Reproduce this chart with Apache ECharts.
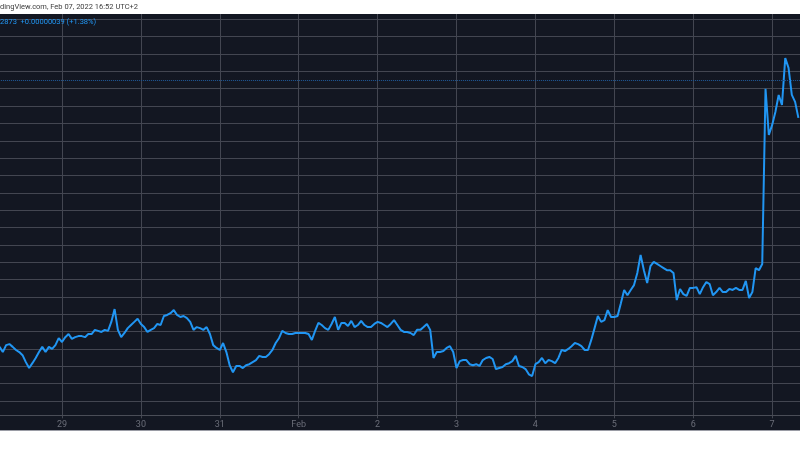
<!DOCTYPE html>
<html>
<head>
<meta charset="utf-8">
<script src="https://cdn.jsdelivr.net/npm/echarts@6/dist/echarts.min.js"></script>
<style>
  html, body { margin: 0; padding: 0; background: #fff; }
  #chart { width: 800px; height: 450px; }
</style>
</head>
<body>
<div id="chart"></div>
<script>
// hours counted from Jan 29 00:00, one point per hour
var startHour = -19
var dayLabels = ['28', '29', '30', '31', 'Feb', '2', '3', '4', '5', '6', '7', '8']
var prices = [
  2206, 2191, 2211, 2214, 2206, 2197, 2191, 2182, 2162, 2145,
  2159, 2174, 2191, 2206, 2191, 2206, 2200, 2211, 2231, 2220,
  2234, 2243, 2229, 2234, 2237, 2237, 2234, 2243, 2243, 2255,
  2252, 2249, 2255, 2252, 2278, 2315, 2255, 2234, 2246, 2260,
  2269, 2278, 2287, 2272, 2263, 2249, 2255, 2260, 2272, 2269,
  2295, 2298, 2303, 2312, 2298, 2292, 2295, 2289, 2278, 2255,
  2263, 2260, 2255, 2263, 2243, 2211, 2203, 2197, 2217, 2191,
  2153, 2133, 2151, 2151, 2145, 2153, 2156, 2162, 2168, 2180,
  2177, 2177, 2185, 2197, 2217, 2231, 2252, 2246, 2243, 2243,
  2246, 2246, 2246, 2246, 2243, 2226, 2252, 2275, 2269, 2260,
  2255, 2272, 2292, 2255, 2275, 2275, 2266, 2281, 2263, 2269,
  2281, 2269, 2263, 2263, 2272, 2278, 2275, 2269, 2263, 2272,
  2283, 2269, 2255, 2249, 2249, 2246, 2240, 2255, 2255, 2263,
  2272, 2255, 2174, 2191, 2191, 2194, 2203, 2208, 2191, 2145,
  2165, 2168, 2168, 2156, 2153, 2156, 2151, 2168, 2174, 2177,
  2171, 2142, 2145, 2148, 2156, 2159, 2165, 2180, 2151, 2148,
  2142, 2127, 2122, 2156, 2162, 2174, 2159, 2168, 2165, 2159,
  2174, 2197, 2194, 2200, 2208, 2217, 2214, 2208, 2197, 2197,
  2226, 2260, 2295, 2278, 2283, 2312, 2292, 2292, 2295, 2332,
  2370, 2355, 2370, 2384, 2419, 2471, 2427, 2390, 2439, 2451,
  2445, 2439, 2433, 2427, 2427, 2419, 2341, 2373, 2358, 2353,
  2376, 2376, 2378, 2358, 2378, 2393, 2387, 2355, 2364, 2376,
  2364, 2364, 2373, 2370, 2376, 2370, 2370, 2396, 2347, 2364,
  2433, 2427, 2445, 2950, 2817, 2845, 2883, 2932, 2903, 3038,
  3010, 2932, 2912, 2866
]
var refLevel = 2975
var headerText = 'dingView.com, Feb 07, 2022 16:52 UTC+2'
var quoteText = '2873  +0.00000039 (+1.38%)'

var chart = echarts.init(document.getElementById('chart'))
var option = {
  animation: false,
  backgroundColor: '#131722',
  grid: {
    left: -16.9,
    right: -51,
    top: 1.95,
    bottom: 31.65,
    containLabel: false,
    outerBoundsMode: 'none'
  },
  xAxis: {
    type: 'value',
    min: -24,
    max: 240,
    interval: 24,
    offset: -3.3,
    axisLine: { show: true, lineStyle: { color: '#4a4d57', width: 1 } },
    axisTick: { show: false },
    axisLabel: {
      color: '#6b6e79',
      fontSize: 9,
      fontFamily: 'Roboto',
      margin: 5,
      formatter: function (v) { return dayLabels[Math.round(v / 24) + 1] }
    },
    splitLine: { show: true, lineStyle: { color: '#434651', width: 1 } }
  },
  yAxis: {
    type: 'value',
    min: 2000,
    max: 3200,
    interval: 50,
    axisLine: { show: false },
    axisTick: { show: false },
    axisLabel: { show: false },
    splitLine: {
      show: true,
      showMinLine: false,
      showMaxLine: false,
      lineStyle: { color: '#434651', width: 1 }
    }
  },
  series: [{
    type: 'line',
    showSymbol: false,
    data: prices.map(function (v, i) { return [startHour + i, v] }),
    lineStyle: { color: '#2196f3', width: 2 },
    markLine: {
      silent: true,
      symbol: 'none',
      label: { show: false },
      lineStyle: { color: '#1f5a9a', type: 'dotted', width: 1 },
      data: [{ yAxis: refLevel }]
    }
  }],
  graphic: [
    { type: 'rect', z: 100, shape: { x: 0, y: 0, width: 800, height: 14 }, style: { fill: '#ffffff' } },
    { type: 'rect', z: 100, shape: { x: 0, y: 430, width: 800, height: 20 }, style: { fill: '#ffffff' } },
    { type: 'line', z: 101, shape: { x1: 0, y1: 430.5, x2: 800, y2: 430.5 }, style: { stroke: '#9a9ca5', lineWidth: 1 } },
    { type: 'text', z: 101, left: 0, top: 3, style: { text: headerText, fill: '#3c3c3c', font: '7.5px Roboto' } },
    { type: 'text', z: 101, left: 0, top: 18, style: { text: quoteText, fill: '#2196f3', font: '7.5px Roboto' } }
  ]
}
chart.setOption(option)
</script>
</body>
</html>
